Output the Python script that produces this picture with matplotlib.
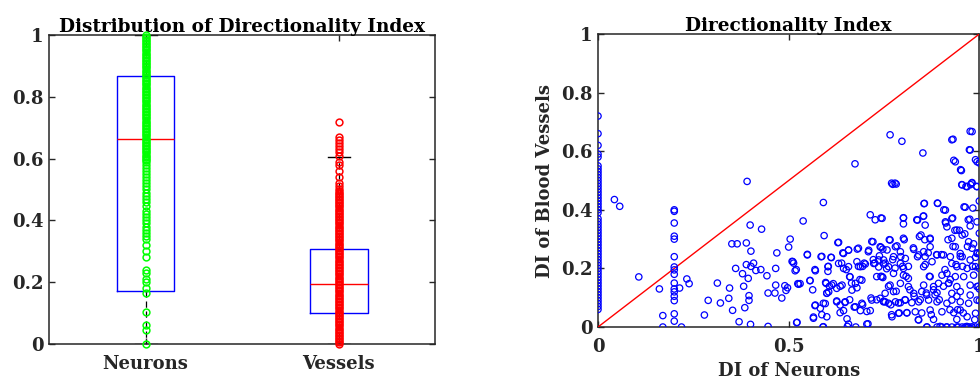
import numpy as np
import matplotlib
matplotlib.use("Agg")
import matplotlib.pyplot as plt

plt.rcParams['font.family'] = ['DejaVu Serif']
plt.rcParams['font.weight'] = 'bold'

# box statistics (left panel)
groups = ["Neurons", "Vessels"]
q1 = [0.17, 0.10]
median = [0.663, 0.195]
q3 = [0.868, 0.308]
whisker_low = [0.0, 0.0]
whisker_high = [1.0, 0.605]

# individual DI values drawn over each box
neuron_values = [
    1.00, 0.995, 0.99, 0.985, 0.98, 0.975, 0.97, 0.965, 0.96, 0.955,
    0.95, 0.945, 0.94, 0.935, 0.93, 0.925, 0.92, 0.915, 0.91, 0.905,
    0.90, 0.895, 0.89, 0.885, 0.88, 0.875, 0.87, 0.865, 0.86, 0.855,
    0.85, 0.845, 0.84, 0.835, 0.83, 0.825, 0.82, 0.815, 0.81, 0.805,
    0.80, 0.795, 0.79, 0.785, 0.78, 0.775, 0.77, 0.765, 0.76, 0.755,
    0.75, 0.745, 0.74, 0.735, 0.73, 0.725, 0.72, 0.715, 0.71, 0.705,
    0.70, 0.695, 0.69, 0.685, 0.68, 0.675, 0.67, 0.665, 0.66, 0.655,
    0.65, 0.645, 0.64, 0.635, 0.63, 0.625, 0.62, 0.615, 0.61, 0.605,
    0.60, 0.595, 0.59, 0.58, 0.57, 0.56, 0.55, 0.54, 0.53, 0.52,
    0.51, 0.50, 0.49, 0.48, 0.47, 0.46, 0.445, 0.43, 0.42, 0.41,
    0.40, 0.39, 0.38, 0.37, 0.36, 0.35, 0.34, 0.32, 0.30, 0.28,
    0.24, 0.23, 0.21, 0.20, 0.18, 0.165, 0.105, 0.06, 0.045, 0.0,
]
vessel_values = [
    0.00, 0.005, 0.01, 0.015, 0.02, 0.025, 0.03, 0.035, 0.04, 0.045,
    0.05, 0.055, 0.06, 0.065, 0.07, 0.075, 0.08, 0.085, 0.09, 0.095,
    0.10, 0.105, 0.11, 0.115, 0.12, 0.125, 0.13, 0.135, 0.14, 0.145,
    0.15, 0.155, 0.16, 0.165, 0.17, 0.175, 0.18, 0.185, 0.19, 0.195,
    0.20, 0.205, 0.21, 0.215, 0.22, 0.225, 0.23, 0.235, 0.24, 0.245,
    0.25, 0.255, 0.26, 0.265, 0.27, 0.275, 0.28, 0.285, 0.29, 0.295,
    0.30, 0.305, 0.31, 0.315, 0.32, 0.325, 0.33, 0.335, 0.34, 0.345,
    0.35, 0.355, 0.36, 0.365, 0.37, 0.375, 0.38, 0.385, 0.39, 0.395,
    0.40, 0.405, 0.41, 0.415, 0.42, 0.425, 0.43, 0.435, 0.44, 0.445,
    0.45, 0.455, 0.46, 0.465, 0.47, 0.475, 0.48, 0.485, 0.49, 0.495,
    0.50, 0.51, 0.52, 0.54, 0.56, 0.58, 0.59, 0.61, 0.62, 0.63,
    0.64, 0.65, 0.66, 0.67, 0.72,
]

# paired DI values (right panel), one entry per cell
di_neurons = [
    0.0, 0.0, 0.0, 0.0, 0.0, 0.0, 0.0, 0.0, 0.0, 0.0,
    0.0, 0.0, 0.0, 0.0, 0.0, 0.0, 0.0, 0.0, 0.0, 0.0,
    0.0, 0.0, 0.0, 0.0, 0.0, 0.0, 0.0, 0.0, 0.0, 0.0,
    0.0, 0.0, 0.0, 0.0, 0.0, 0.0, 0.0, 0.0, 0.0, 0.0,
    0.0, 0.0, 0.0, 0.0, 0.0, 0.0, 0.0, 0.0, 0.0, 0.0,
    0.0, 0.0, 0.0, 0.0,
    0.043, 0.057, 0.107, 0.161, 0.170, 0.170,
    0.200, 0.200, 0.200, 0.200, 0.200, 0.200, 0.200, 0.200,
    0.200, 0.200, 0.200, 0.200, 0.200, 0.200, 0.200, 0.200,
    0.214, 0.219, 0.233, 0.239, 0.279, 0.289, 0.313, 0.321, 0.343, 0.345,
    0.353, 0.351, 0.365, 0.361, 0.370, 0.379, 0.382, 0.385, 0.389, 0.391,
    0.389, 0.394, 0.396, 0.396, 0.399, 0.401, 0.400, 0.401, 0.408, 0.414,
    0.427, 0.429, 0.443, 0.446, 0.446, 0.464, 0.466, 0.466, 0.469, 0.482,
    0.490, 0.493, 0.497, 0.500, 0.504, 0.509, 0.513, 0.520, 0.522, 0.524,
    0.530, 0.538, 0.549, 0.556, 0.563, 0.569, 0.569, 0.565, 0.587, 0.587,
    0.591, 0.593, 0.590, 0.596, 0.597, 0.600, 0.604, 0.607, 0.612, 0.617,
    0.626, 0.631, 0.635, 0.639, 0.642, 0.644, 0.648, 0.651, 0.654, 0.657,
    0.660, 0.661, 0.665, 0.672, 0.674, 0.676, 0.680, 0.683, 0.687, 0.694,
    0.694, 0.698, 0.705, 0.708, 0.710, 0.714, 0.716, 0.718, 0.722, 0.726,
    0.727, 0.731, 0.738, 0.742, 0.742, 0.747, 0.749, 0.753, 0.757, 0.762,
    0.764, 0.766, 0.768, 0.770, 0.770, 0.773, 0.779, 0.779, 0.782, 0.784,
    0.788, 0.790, 0.794, 0.797, 0.799, 0.801, 0.803, 0.805, 0.808, 0.810,
    0.814, 0.818, 0.827, 0.829, 0.836, 0.838, 0.840, 0.843, 0.845, 0.849,
    0.852, 0.853, 0.855, 0.857, 0.858, 0.861, 0.862, 0.866, 0.869, 0.871,
    0.874, 0.880, 0.884, 0.888, 0.890, 0.895, 0.897, 0.901, 0.906, 0.907,
    0.910, 0.912, 0.914, 0.918, 0.920, 0.923, 0.924, 0.928, 0.930, 0.931,
    0.933, 0.936, 0.939, 0.941, 0.943, 0.945, 0.948, 0.950, 0.951, 0.954,
    0.956, 0.958, 0.960, 0.962, 0.965, 0.967, 0.969, 0.971, 0.974, 0.976,
    0.977, 0.980, 0.982, 0.983, 0.985, 0.988, 0.990, 0.993, 0.995, 0.997,
    1.000, 0.990, 0.980, 0.970, 1.000, 1.000, 1.000, 1.000, 1.000, 1.000,
    1.000,
    0.629, 0.657, 0.683, 0.709, 0.721, 0.742, 0.549, 0.585, 0.611, 0.644,
    0.511, 0.517, 0.570, 0.603, 0.603, 0.631, 0.644, 0.657, 0.679, 0.688,
    0.701, 0.723, 0.736, 0.736, 0.749, 0.660, 0.692, 0.675, 0.556, 0.526,
    0.598, 0.613, 0.640, 0.626, 0.666, 0.679, 0.600, 0.605, 0.731, 0.747,
    0.740, 0.718, 0.570, 0.591, 0.583, 0.626, 0.635, 0.648, 0.675, 0.692,
    0.688, 0.714, 0.753, 0.635, 0.565, 0.600, 0.653, 0.521, 0.591, 0.657,
    0.705,
    0.931, 0.981, 0.976, 0.937, 0.953, 0.994, 0.773, 0.782, 0.955, 0.968,
    0.981, 0.994, 0.856, 0.891, 0.911, 0.963, 0.745, 0.801, 0.854, 0.838,
    0.911, 0.928, 0.975, 0.994, 0.801, 0.858, 0.915, 0.941, 0.976, 0.847,
    0.871, 0.801, 0.766, 0.928, 0.955, 0.972, 0.740, 0.758, 0.780, 0.793,
    0.828, 0.854, 0.871, 0.937, 0.950, 0.981, 0.994, 0.749, 0.775, 0.806,
    0.841, 0.858, 0.889, 0.906, 0.924, 0.955, 0.976, 0.990, 0.762, 0.793,
    0.801, 0.854, 0.876, 0.928, 0.941, 0.968, 0.990, 0.745, 0.775, 0.801,
    0.814, 0.871, 0.902, 0.915, 0.937, 0.959, 0.985, 0.766, 0.793, 0.814,
    0.854, 0.880, 0.893, 0.919, 0.941, 0.976, 0.994, 0.753, 0.775, 0.828,
    0.849, 0.862, 0.889, 0.928, 0.950, 0.976, 0.749, 0.762, 0.780, 0.793,
    0.806, 0.823, 0.841, 0.867, 0.889, 0.915, 0.928, 0.950, 0.972, 0.994,
    0.771, 0.788, 0.810, 0.832, 0.871, 0.902, 0.933, 0.950, 0.968, 0.990,
    0.841, 0.880, 0.941,
    0.863, 0.889, 0.902, 0.915, 0.928, 0.941, 0.955, 0.963, 0.972, 0.981,
]
di_vessels = [
    0.72, 0.66, 0.62, 0.59, 0.58, 0.55, 0.54, 0.53, 0.52, 0.51,
    0.50, 0.49, 0.48, 0.47, 0.46, 0.45, 0.44, 0.43, 0.42, 0.41,
    0.40, 0.39, 0.37, 0.36, 0.35, 0.34, 0.33, 0.32, 0.31, 0.30,
    0.29, 0.28, 0.27, 0.26, 0.25, 0.24, 0.23, 0.22, 0.21, 0.20,
    0.19, 0.18, 0.17, 0.16, 0.15, 0.14, 0.13, 0.12, 0.11, 0.10,
    0.09, 0.08, 0.07, 0.06,
    0.435, 0.412, 0.171, 0.130, 0.039, 0.0,
    0.400, 0.395, 0.355, 0.310, 0.300, 0.240, 0.205, 0.195,
    0.180, 0.150, 0.130, 0.120, 0.105, 0.090, 0.045, 0.020,
    0.133, 0.0, 0.164, 0.148, 0.041, 0.091, 0.150, 0.082, 0.098, 0.133,
    0.057, 0.284, 0.284, 0.200, 0.018, 0.182, 0.139, 0.066, 0.287, 0.497,
    0.213, 0.166, 0.107, 0.091, 0.348, 0.259, 0.009, 0.207, 0.218, 0.193,
    0.196, 0.334, 0.175, 0.116, 0.002, 0.116, 0.143, 0.200, 0.253, 0.099,
    0.141, 0.125, 0.134, 0.273, 0.300, 0.224, 0.218, 0.196, 0.016, 0.148,
    0.148, 0.362, 0.248, 0.159, 0.127, 0.073, 0.196, 0.034, 0.241, 0.042,
    0.425, 0.312, 0.0, 0.080, 0.152, 0.116, 0.207, 0.139, 0.237, 0.148,
    0.089, 0.289, 0.139, 0.218, 0.253, 0.056, 0.084, 0.196, 0.002, 0.262,
    0.093, 0.171, 0.150, 0.068, 0.557, 0.0, 0.266, 0.207, 0.162, 0.207,
    0.076, 0.218, 0.053, 0.011, 0.262, 0.383, 0.099, 0.292, 0.230, 0.218,
    0.366, 0.093, 0.243, 0.372, 0.173, 0.266, 0.088, 0.218, 0.199, 0.139,
    0.298, 0.656, 0.076, 0.491, 0.042, 0.230, 0.491, 0.201, 0.122, 0.277,
    0.082, 0.048, 0.240, 0.634, 0.207, 0.372, 0.298, 0.093, 0.173, 0.048,
    0.207, 0.127, 0.270, 0.105, 0.366, 0.240, 0.025, 0.309, 0.093, 0.048,
    0.594, 0.378, 0.421, 0.298, 0.213, 0.116, 0.0, 0.253, 0.173, 0.300,
    0.042, 0.127, 0.110, 0.247, 0.423, 0.093, 0.002, 0.247, 0.139, 0.400,
    0.196, 0.355, 0.0, 0.298, 0.150, 0.059, 0.162, 0.639, 0.372, 0.275,
    0.569, 0.330, 0.213, 0.105, 0.059, 0.0, 0.330, 0.241, 0.537, 0.486,
    0.207, 0.048, 0.410, 0.318, 0.480, 0.002, 0.275, 0.366, 0.605, 0.668,
    0.486, 0.491, 0.207, 0.406, 0.284, 0.025, 0.571, 0.480, 0.253, 0.139,
    0.0, 0.0, 0.0, 0.0, 0.09, 0.13, 0.20, 0.25, 0.32, 0.43,
    0.56,
    0.288, 0.263, 0.269, 0.257, 0.291, 0.272, 0.246, 0.240, 0.238, 0.251,
    0.223, 0.192, 0.192, 0.206, 0.190, 0.217, 0.200, 0.206, 0.223, 0.206,
    0.215, 0.217, 0.229, 0.205, 0.215, 0.172, 0.160, 0.149, 0.158, 0.146,
    0.149, 0.143, 0.143, 0.132, 0.126, 0.134, 0.115, 0.120, 0.172, 0.169,
    0.098, 0.092, 0.075, 0.081, 0.064, 0.086, 0.075, 0.086, 0.069, 0.081,
    0.056, 0.056, 0.086, 0.049, 0.030, 0.035, 0.028, 0.015, 0.001, 0.010,
    0.010,
    0.641, 0.667, 0.604, 0.564, 0.534, 0.564, 0.487, 0.488, 0.485, 0.479,
    0.493, 0.479, 0.422, 0.422, 0.399, 0.409, 0.371, 0.373, 0.379, 0.365,
    0.359, 0.370, 0.368, 0.359, 0.352, 0.348, 0.342, 0.331, 0.345, 0.314,
    0.303, 0.303, 0.297, 0.303, 0.314, 0.291, 0.274, 0.263, 0.274, 0.257,
    0.265, 0.257, 0.274, 0.274, 0.251, 0.269, 0.251, 0.229, 0.240, 0.234,
    0.246, 0.240, 0.246, 0.246, 0.240, 0.240, 0.229, 0.238, 0.206, 0.217,
    0.200, 0.206, 0.223, 0.217, 0.206, 0.200, 0.206, 0.172, 0.183, 0.177,
    0.166, 0.172, 0.177, 0.183, 0.172, 0.172, 0.177, 0.143, 0.149, 0.138,
    0.143, 0.138, 0.149, 0.149, 0.138, 0.143, 0.138, 0.115, 0.121, 0.115,
    0.121, 0.109, 0.117, 0.115, 0.121, 0.109, 0.086, 0.081, 0.086, 0.083,
    0.092, 0.083, 0.086, 0.092, 0.086, 0.081, 0.092, 0.086, 0.081, 0.092,
    0.035, 0.047, 0.049, 0.052, 0.058, 0.052, 0.049, 0.058, 0.035, 0.047,
    0.024, 0.026, 0.026,
    0.0, 0.0, 0.0, 0.0, 0.0, 0.0, 0.0, 0.0, 0.0, 0.0,
]

dark = '#262626'
fig = plt.figure(figsize=(9.8, 3.85), dpi=100)

# left: box plot with the raw values on top
ax1 = fig.add_axes([0.050, 0.1065, 0.394, 0.8026])
stats = []
for i, name in enumerate(groups):
    stats.append(dict(label=name, q1=q1[i], med=median[i], q3=q3[i],
                      whislo=whisker_low[i], whishi=whisker_high[i], fliers=[]))
ax1.bxp(stats, positions=[1, 2], widths=0.3, capwidths=0.114, showfliers=False,
        boxprops=dict(color='blue', lw=1.0),
        medianprops=dict(color='red', lw=1.0),
        whiskerprops=dict(color='black', lw=0.9, ls=(0, (5, 3))),
        capprops=dict(color='black', lw=1.0))
ax1.plot([1] * len(neuron_values), neuron_values, 'o', mfc='none', mec=(0, 1, 0),
         ms=4.9, mew=1.1, clip_on=False, zorder=4)
ax1.plot([2] * len(vessel_values), vessel_values, 'o', mfc='none', mec=(1, 0, 0),
         ms=4.9, mew=1.1, clip_on=False, zorder=4)
ax1.set_xlim(0.5, 2.5)
ax1.set_ylim(0, 1)
ax1.set_xticks([1, 2])
ax1.set_xticklabels(groups)
ax1.set_yticks([0, 0.2, 0.4, 0.6, 0.8, 1])
ax1.set_yticklabels(['0', '0.2', '0.4', '0.6', '0.8', '1'])
ax1.set_title('Distribution of Directionality Index', fontsize=13.3,
              fontweight='bold', pad=2, color='black')

# right: paired scatter with identity line
ax2 = fig.add_axes([0.6102, 0.1506, 0.3891, 0.761])
ax2.plot([0, 1], [0, 1], color='red', lw=1.0, zorder=3)
ax2.scatter(di_neurons, di_vessels, s=21, facecolors='none', edgecolors='blue',
            linewidths=0.9, zorder=4)
ax2.set_xlim(0, 1)
ax2.set_ylim(0, 1)
ax2.set_xticks([0, 0.5, 1])
ax2.set_xticklabels(['0', '0.5', '1'])
ax2.set_yticks([0, 0.2, 0.4, 0.6, 0.8, 1])
ax2.set_yticklabels(['0', '0.2', '0.4', '0.6', '0.8', '1'])
ax2.set_title('Directionality Index', fontsize=13.3, fontweight='bold', pad=2,
              color='black')
ax2.set_xlabel('DI of Neurons', fontsize=13, fontweight='bold', labelpad=4, color=dark)
ax2.set_ylabel('DI of Blood Vessels', fontsize=13, fontweight='bold', labelpad=5, color=dark)

for ax in (ax1, ax2):
    for sp in ax.spines.values():
        sp.set_color(dark)
        sp.set_linewidth(1.1)
    ax.tick_params(direction='in', top=True, right=True, length=4, width=1,
                   color=dark, labelcolor=dark, labelsize=13)
    ax.tick_params(axis='x', pad=8)
    ax.tick_params(axis='y', pad=4)
    for lab in ax.get_xticklabels() + ax.get_yticklabels():
        lab.set_fontweight('bold')

fig.savefig('out.png', dpi=100)
